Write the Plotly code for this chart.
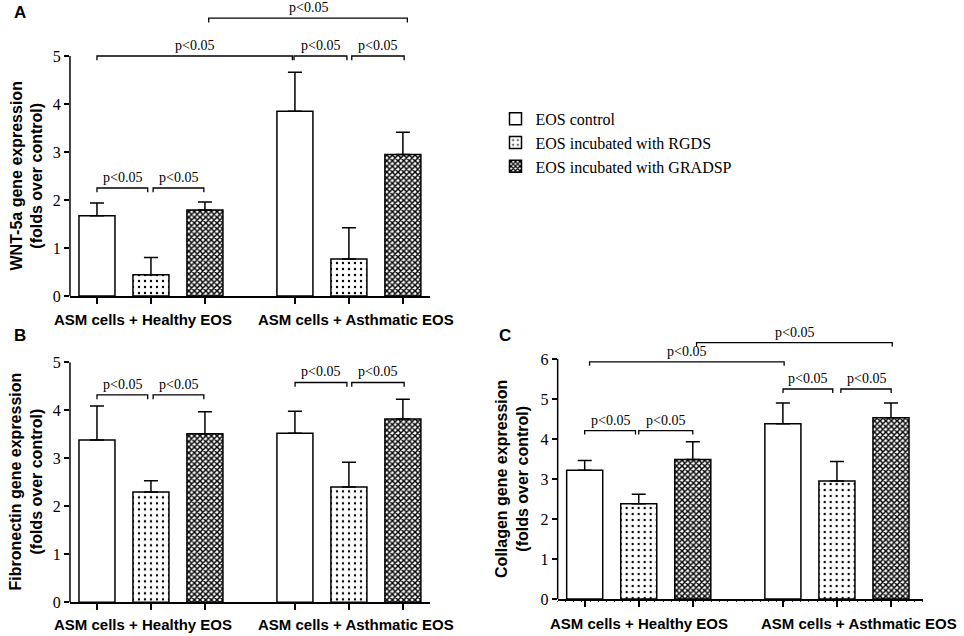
import plotly.graph_objects as go

groups = ["ASM cells + Healthy EOS", "ASM cells + Asthmatic EOS"]
series = ["EOS control", "EOS incubated with RGDS", "EOS incubated with GRADSP"]

# values, one row per series: [healthy, asthmatic]
wnt_mean = [[1.67, 3.85], [0.44, 0.77], [1.79, 2.95]]
wnt_err = [[0.27, 0.81], [0.36, 0.65], [0.17, 0.46]]

fn_mean = [[3.38, 3.52], [2.30, 2.40], [3.51, 3.82]]
fn_err = [[0.71, 0.46], [0.23, 0.52], [0.46, 0.41]]

col_mean = [[3.22, 4.38], [2.38, 2.95], [3.49, 4.53]]
col_err = [[0.24, 0.52], [0.24, 0.49], [0.44, 0.37]]

pval = "p&lt;0.05"

# significance brackets (x from, x to, height) in axis units
wnt_brackets = [(0, 0.94, 2.25), (1.04, 1.98, 2.25), (0, 3.62, 5.0),
                (3.65, 4.63, 5.0), (4.72, 5.69, 5.0), (2.07, 5.75, 5.79)]
fn_brackets = [(0, 0.94, 4.32), (1.04, 1.98, 4.32),
               (3.67, 4.63, 4.58), (4.72, 5.69, 4.58)]
col_brackets = [(0, 0.94, 4.21), (1.0, 2.0, 4.21), (3.67, 4.59, 5.25),
                (4.74, 5.67, 5.25), (0.09, 3.69, 5.93), (2.07, 5.69, 6.41)]

patterns = [
    dict(shape=""),
    dict(shape=".", size=6, solidity=0.12, fgcolor="black", bgcolor="white", fillmode="replace"),
    dict(shape="x", size=4, solidity=0.6, fgcolor="black", bgcolor="white", fillmode="replace"),
]

group_step = 3.667
serif = "Liberation Serif, Times New Roman, serif"
sans = "Liberation Sans, Arial, sans-serif"

fig = go.Figure()


def add_panel(n, means, errs, brackets, drop, yline_top, show_legend):
    xa = "x" if n == 1 else "x%d" % n
    ya = "y" if n == 1 else "y%d" % n
    for s in range(3):
        fig.add_trace(go.Bar(
            x=[g * group_step + s for g in range(2)],
            y=means[s],
            width=0.667,
            xaxis=xa, yaxis=ya,
            name=series[s],
            legendgroup=series[s],
            showlegend=show_legend,
            marker=dict(color="white", line=dict(color="black", width=1.5),
                        pattern=patterns[s]),
            error_y=dict(type="data", array=errs[s], arrayminus=[0, 0],
                         symmetric=False, color="black", thickness=1.5, width=7),
        ))
    for x0, x1, h in brackets:
        fig.add_shape(type="path", xref=xa, yref=ya,
                      path="M %f,%f L %f,%f L %f,%f L %f,%f" % (x0, h - drop, x0, h, x1, h, x1, h - drop),
                      line=dict(color="black", width=1.3))
        fig.add_annotation(x=(x0 + x1) / 2, y=h, xref=xa, yref=ya, text=pval,
                           showarrow=False, xanchor="center", yanchor="bottom", yshift=1,
                           font=dict(family=serif, size=14, color="black"))
    # y axis line only up to the last tick
    fig.add_shape(type="line", xref=xa + " domain", yref=ya, x0=0, x1=0,
                  y0=0, y1=yline_top, line=dict(color="black", width=1.5))


add_panel(1, wnt_mean, wnt_err, wnt_brackets, 0.09, 5, True)
add_panel(2, fn_mean, fn_err, fn_brackets, 0.09, 5, False)
add_panel(3, col_mean, col_err, col_brackets, 0.1, 6, False)

ticks_x = [g * group_step + s for g in range(2) for s in range(3)]


def xaxis(domain, rng, anchor, minor=None):
    d = dict(domain=domain, range=rng, anchor=anchor, showline=True, linecolor="black",
             linewidth=1.5, ticks="outside", tickvals=ticks_x, ticklen=6, tickwidth=1.5,
             tickcolor="black", showticklabels=False, showgrid=False, zeroline=False,
             automargin=False)
    if minor:
        d["minor"] = minor
    return d


def yaxis(domain, rng, top, anchor):
    return dict(domain=domain, range=rng, anchor=anchor, showline=False,
                ticks="outside", tickvals=list(range(top + 1)), ticklen=5, tickwidth=1.5,
                tickcolor="black", showgrid=False, zeroline=False, automargin=False,
                tickfont=dict(family=serif, size=16, color="black"))


fig.update_layout(
    width=964, height=636,
    margin=dict(l=0, r=0, t=0, b=0, pad=0, autoexpand=False),
    paper_bgcolor="white", plot_bgcolor="white",
    barmode="overlay",
    xaxis=xaxis([0.0726, 0.4461], [-0.5, 6.17], "y"),
    yaxis=yaxis([0.5346, 0.9874], [0, 6], 5, "x"),
    xaxis2=xaxis([0.0726, 0.4461], [-0.5, 6.17], "y2"),
    yaxis2=yaxis([0.0530, 0.4303], [0, 5], 5, "x2"),
    xaxis3=xaxis([0.5785, 0.9575], [-0.5, 6.26], "y3",
                 minor=dict(tickmode="linear", tick0=-0.5, dtick=0.15, ticks="outside",
                            ticklen=1.5, tickwidth=1, tickcolor="#444", showgrid=False)),
    yaxis3=yaxis([0.0582, 0.4984], [0, 7], 6, "x3"),
    legend=dict(x=0.514, y=0.84, xanchor="left", yanchor="top",
                font=dict(family=serif, size=16, color="black"),
                bgcolor="rgba(0,0,0,0)", tracegroupgap=0),
)

# axis titles, category labels and panel letters
ytitles = [("WNT-5a gene expression<br>(folds over control)", 0.0275, 0.7233),
           ("Fibronectin gene expression<br>(folds over control)", 0.0275, 0.2421),
           ("Collagen gene expression<br>(folds over control)", 0.5311, 0.2469)]
for txt, x, y in ytitles:
    fig.add_annotation(text=txt, x=x, y=y, xref="paper", yref="paper", showarrow=False,
                       xanchor="center", yanchor="middle", textangle=-90,
                       font=dict(family=sans, size=16, color="black", weight="bold"))

cat_pos = [("x", [0.85, 4.8], 0.4969), ("x2", [0.85, 4.8], 0.0173), ("x3", [1.0, 5.07], 0.0204)]
for xa, xs, y in cat_pos:
    for g in range(2):
        fig.add_annotation(text=groups[g], x=xs[g], y=y, xref=xa, yref="paper",
                           showarrow=False, xanchor="center", yanchor="middle",
                           font=dict(family=sans, size=15, color="black", weight="bold"))

for letter, x, y in [("A", 0.021, 0.98), ("B", 0.021, 0.473), ("C", 0.524, 0.473)]:
    fig.add_annotation(text=letter, x=x, y=y, xref="paper", yref="paper", showarrow=False,
                       xanchor="center", yanchor="middle",
                       font=dict(family=sans, size=17, color="black", weight="bold"))

# the page body has a default 8px margin; drop it so the figure fills the window
fig.write_html("out.html", config={"displayModeBar": False},
               post_script="document.body.style.margin = '0px';")
